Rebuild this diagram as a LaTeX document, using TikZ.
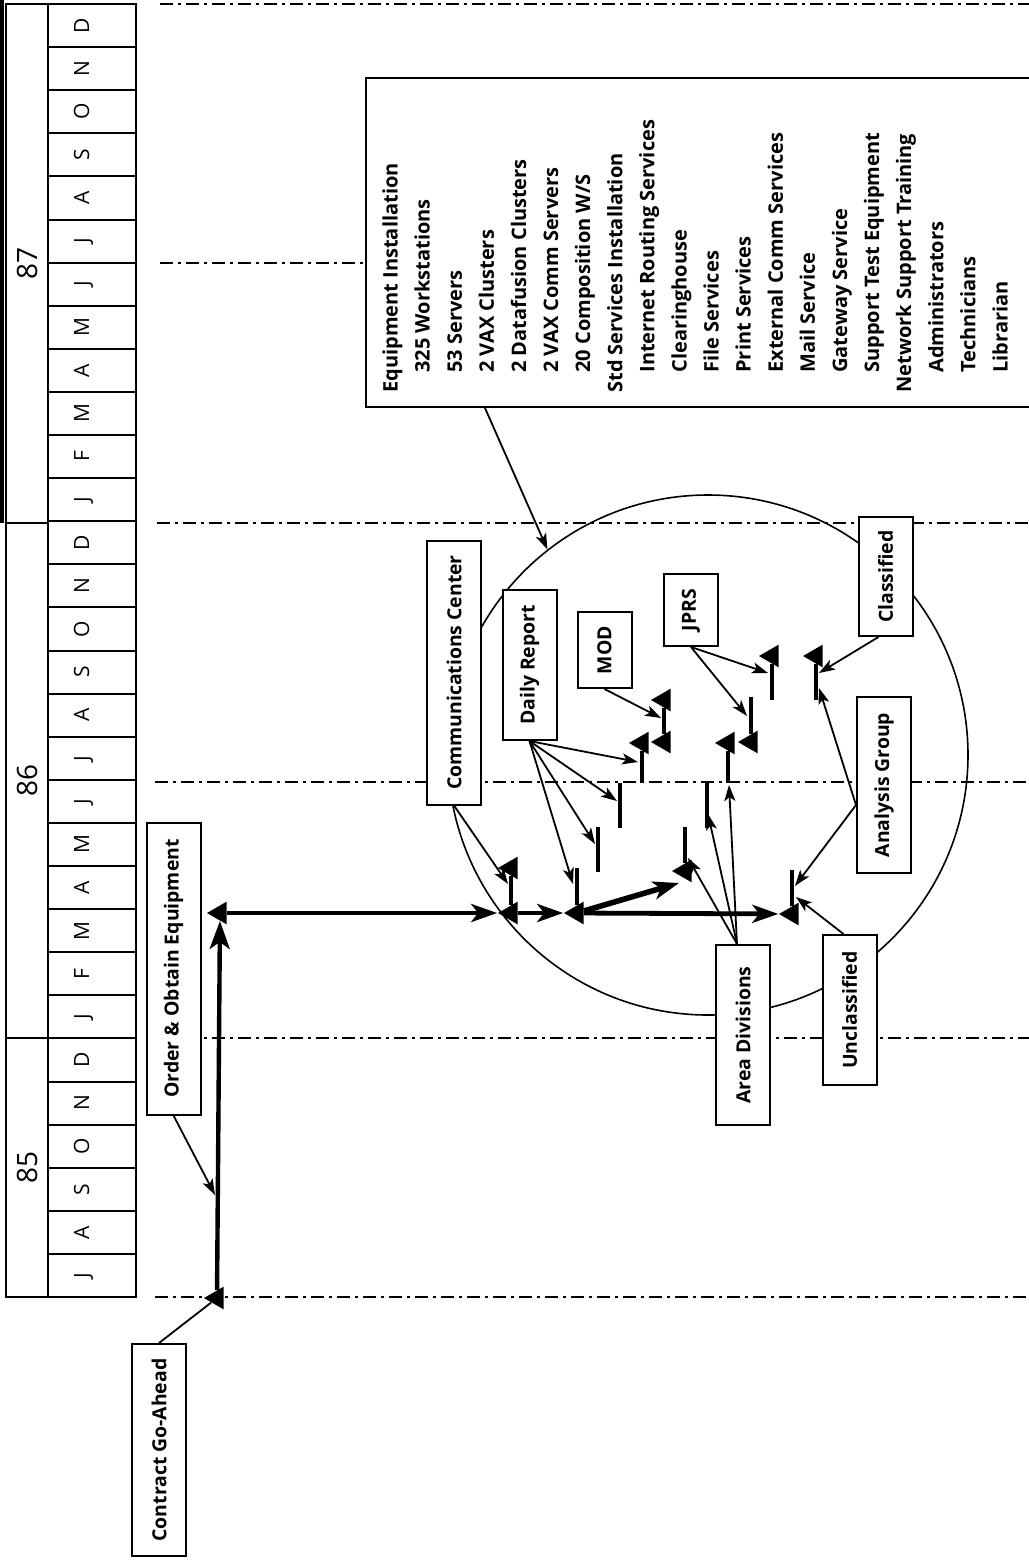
\documentclass[tikz,border=0pt]{standalone}
\usepackage{fontspec}
\setmainfont{Open Sans}
\usetikzlibrary{arrows.meta,shapes.geometric}

\newcommand{\mlet}[1]{\raisebox{1.5pt}[0pt][0pt]{#1}}

\tikzset{
  tag/.style={draw, fill=white, line width=1pt, rotate=90, minimum height=27pt, inner sep=2pt,
    font=\fontsize{9.7}{11}\selectfont\bfseries},
  month/.style={draw, line width=1pt, rotate=90, minimum width=21.55pt, minimum height=44pt,
    inner sep=0pt, font=\fontsize{10.5}{12}\selectfont},
  yearcell/.style={draw, line width=1pt, rotate=90, minimum height=21pt, inner sep=0pt,
    font=\fontsize{14}{16}\selectfont},
  mile/.style={regular polygon, regular polygon sides=3, shape border rotate=90, fill=black,
    minimum size=13pt, inner sep=0pt},
  bar/.style={line width=2.2pt},
  mainln/.style={line width=2.4pt, -{Stealth[length=13pt,width=9pt,inset=3.5pt]}},
  lead/.style={line width=0.9pt, -{Stealth[length=8pt,width=5.5pt,inset=2pt]}},
  gridln/.style={line width=1pt, dash pattern=on 6.5pt off 2.5pt on 1.5pt off 2.5pt},
}

\begin{document}
\begin{tikzpicture}[x=0.5pt, y=-0.5pt]
\useasboundingbox (0,0) rectangle (1029,1560);

% six month lines
\draw[gridln] (155,1297) -- (1029,1297);
\draw[gridln] (160,1038) -- (1029,1038);
\draw[gridln] (155,782) -- (1029,782);
\draw[gridln] (157,523) -- (1029,523);
\draw[gridln] (160,263) -- (366,263);
\draw[gridln] (160,4) -- (1029,4);
\fill (0,0) rectangle (4,523);

% years
\node[yearcell, minimum width=129.5pt] (y85) at (27,1167.5) {85};
\node[yearcell, minimum width=257.5pt] (y86) at (27,780.5) {86};
\node[yearcell, minimum width=259.5pt] (y87) at (27,263.5) {87};

% months
\node[month] (m01) at (92,1275.45) {\mlet{J}};
\node[month] (m02) at (92,1232.35) {\mlet{A}};
\node[month] (m03) at (92,1189.25) {\mlet{S}};
\node[month] (m04) at (92,1146.15) {\mlet{O}};
\node[month] (m05) at (92,1103.05) {\mlet{N}};
\node[month] (m06) at (92,1059.95) {\mlet{D}};
\node[month] (m07) at (92,1016.85) {\mlet{J}};
\node[month] (m08) at (92,973.75) {\mlet{F}};
\node[month] (m09) at (92,930.65) {\mlet{M}};
\node[month] (m10) at (92,887.55) {\mlet{A}};
\node[month] (m11) at (92,844.45) {\mlet{M}};
\node[month] (m12) at (92,801.35) {\mlet{J}};
\node[month] (m13) at (92,758.25) {\mlet{J}};
\node[month] (m14) at (92,715.15) {\mlet{A}};
\node[month] (m15) at (92,672.05) {\mlet{S}};
\node[month] (m16) at (92,628.95) {\mlet{O}};
\node[month] (m17) at (92,585.85) {\mlet{N}};
\node[month] (m18) at (92,542.75) {\mlet{D}};
\node[month] (m19) at (92,499.65) {\mlet{J}};
\node[month] (m20) at (92,456.55) {\mlet{F}};
\node[month] (m21) at (92,413.45) {\mlet{M}};
\node[month] (m22) at (92,370.35) {\mlet{A}};
\node[month] (m23) at (92,327.25) {\mlet{M}};
\node[month] (m24) at (92,284.15) {\mlet{J}};
\node[month] (m25) at (92,241.05) {\mlet{J}};
\node[month] (m26) at (92,197.95) {\mlet{A}};
\node[month] (m27) at (92,154.85) {\mlet{S}};
\node[month] (m28) at (92,111.75) {\mlet{O}};
\node[month] (m29) at (92,68.65) {\mlet{N}};
\node[month] (m30) at (92,25.55) {\mlet{D}};

% installation circle
\node[draw, circle, line width=0.8pt, minimum size=260pt, inner sep=0pt] (grp) at (708,755) {};

% equipment list
\draw[line width=1pt] (1029,78) -- (366,78) -- (366,407) -- (1029,407);
\coordinate (eqb) at (485,408);
\node[rotate=90, align=left, anchor=north west, inner sep=0pt,
  font=\fontsize{10}{16.05}\selectfont\bfseries] (eq) at (382,393)
  {Equipment Installation\\
   \hspace*{1em}325 Workstations\\
   \hspace*{1em}53 Servers\\
   \hspace*{1em}2 VAX Clusters\\
   \hspace*{1em}2 Datafusion Clusters\\
   \hspace*{1em}2 VAX Comm Servers\\
   \hspace*{1em}20 Composition W/S\\
   Std Services Installation\\
   \hspace*{1em}Internet Routing Services\\
   \hspace*{1em}Clearinghouse\\
   \hspace*{1em}File Services\\
   \hspace*{1em}Print Services\\
   \hspace*{1em}External Comm Services\\
   \hspace*{1em}Mail Service\\
   \hspace*{1em}Gateway Service\\
   \hspace*{1em}Support Test Equipment\\
   Network Support Training\\
   \hspace*{1em}Administrators\\
   \hspace*{1em}Technicians\\
   \hspace*{1em}Librarian};

% labels
\node[tag, minimum width=106pt] (cgb) at (159,1450) {Contract Go-Ahead};
\node[tag, minimum width=146pt] (ob) at (173.5,968.5) {Order \& Obtain Equipment};
\node[tag, minimum width=132pt] (cc) at (454,672.5) {Communications Center};
\node[tag, minimum width=75pt] (dr) at (529.5,665) {Daily Report};
\node[tag, minimum width=38pt] (mod) at (604.5,650) {MOD};
\node[tag, minimum width=36pt] (jprs) at (691,610) {JPRS};
\node[tag, minimum width=59.5pt] (cls) at (885.5,576.5) {Classified};
\node[tag, minimum width=88pt] (an) at (884,785) {Analysis Group};
\node[tag, minimum width=90pt] (ad) at (743,1035) {Area Divisions};
\node[tag, minimum width=75pt] (uc) at (849.5,1010) {Unclassified};

% milestones
\node[mile] (cg) at (217,1298) {};
\node[mile] (om) at (220,913) {};
\node[mile] (cc1) at (511,913) {};
\node[mile] (cc2) at (511,868) {};
\node[mile] (dr1) at (577,913) {};
\node[mile] (fin) at (792,914) {};
\node[mile] (drc) at (642,743) {};
\node[mile] (moda) at (664,700) {};
\node[mile] (modb) at (664,742) {};
\node[mile] (ada) at (685,871) {};
\node[mile] (adc) at (728,743) {};
\node[mile] (jpa) at (751,742) {};
\node[mile] (jpb) at (772,656) {};
\node[mile] (clb) at (816,656) {};

\coordinate (dr1t) at (577,868);
\coordinate (fint) at (792,870);
\coordinate (dra1) at (598,872);
\coordinate (dra2) at (598,827);
\coordinate (drb1) at (620,828);
\coordinate (drb2) at (620,783);
\coordinate (drcb) at (642,783);
\coordinate (adat) at (685,827);
\coordinate (adb1) at (707,828);
\coordinate (adb2) at (707,783);
\coordinate (adcb) at (728,783);
\coordinate (jpat) at (751,697);
\coordinate (jpbb) at (772,700);
\coordinate (clbb) at (816,700);
\coordinate (dgt) at (679,883);

% bars
\draw[line width=2.2pt, -{Stealth[length=14pt,width=10pt,inset=3.5pt]}] (cg) -- (om);
\draw[mainln] (om) -- (cc1);
\draw[mainln] (cc1) -- (dr1);
\draw[mainln] (dr1) -- (fin);
\draw[mainln, line width=2.8pt] (dr1) -- (dgt);
\draw[bar] (cc1) -- (cc2);
\draw[bar] (dr1) -- (dr1t);
\draw[bar] (fin) -- (fint);
\draw[bar] (dra1) -- (dra2);
\draw[bar] (drb1) -- (drb2);
\draw[bar] (drcb) -- (drc);
\draw[bar] (moda) -- (modb);
\draw[bar] (ada) -- (adat);
\draw[bar] (adb1) -- (adb2);
\draw[bar] (adcb) -- (adc);
\draw[bar] (jpa) -- (jpat);
\draw[bar] (jpbb) -- (jpb);
\draw[bar] (clbb) -- (clb);

% leaders
\coordinate (obp) at (215,1195);
\coordinate (ccp) at (508,884);
\coordinate (drp1) at (573,884);
\coordinate (drp2) at (595,844);
\coordinate (drp3) at (617,801);
\coordinate (drp4) at (638,762);
\coordinate (modp) at (661,718);
\coordinate (jpp1) at (768,673);
\coordinate (jpp2) at (747,716);
\coordinate (clp) at (819,673);
\coordinate (anp1) at (819,688);
\coordinate (anp2) at (795,886);
\coordinate (ucp) at (796,897);
\coordinate (adp1) at (688,858);
\coordinate (adp2) at (708,814);
\coordinate (adp3) at (729,785);

\draw[line width=0.9pt] (cgb.east) -- (cg);
\draw[lead] (ob.west) -- (obp);
\draw[lead] (eqb) -- (grp.128);
\draw[lead] (cc.west) -- (ccp);
\draw[lead] (dr.west) -- (drp1);
\draw[lead] (dr.west) -- (drp2);
\draw[lead] (dr.west) -- (drp3);
\draw[lead] (dr.west) -- (drp4);
\draw[lead] (mod.west) -- (modp);
\draw[lead] (jprs.west) -- (jpp1);
\draw[lead] (jprs.west) -- (jpp2);
\draw[lead] ([xshift=-3.5pt]cls.west) -- (clp);
\draw[lead] ([yshift=-10pt]an.north) -- (anp1);
\draw[lead] ([yshift=-10pt]an.north) -- (anp2);
\draw[lead] ([xshift=-3pt]uc.east) -- (ucp);
\draw[lead] ([xshift=-3pt]ad.east) -- (adp1);
\draw[lead] ([xshift=-3pt]ad.east) -- (adp2);
\draw[lead] ([xshift=-3pt]ad.east) -- (adp3);
\end{tikzpicture}
\end{document}
